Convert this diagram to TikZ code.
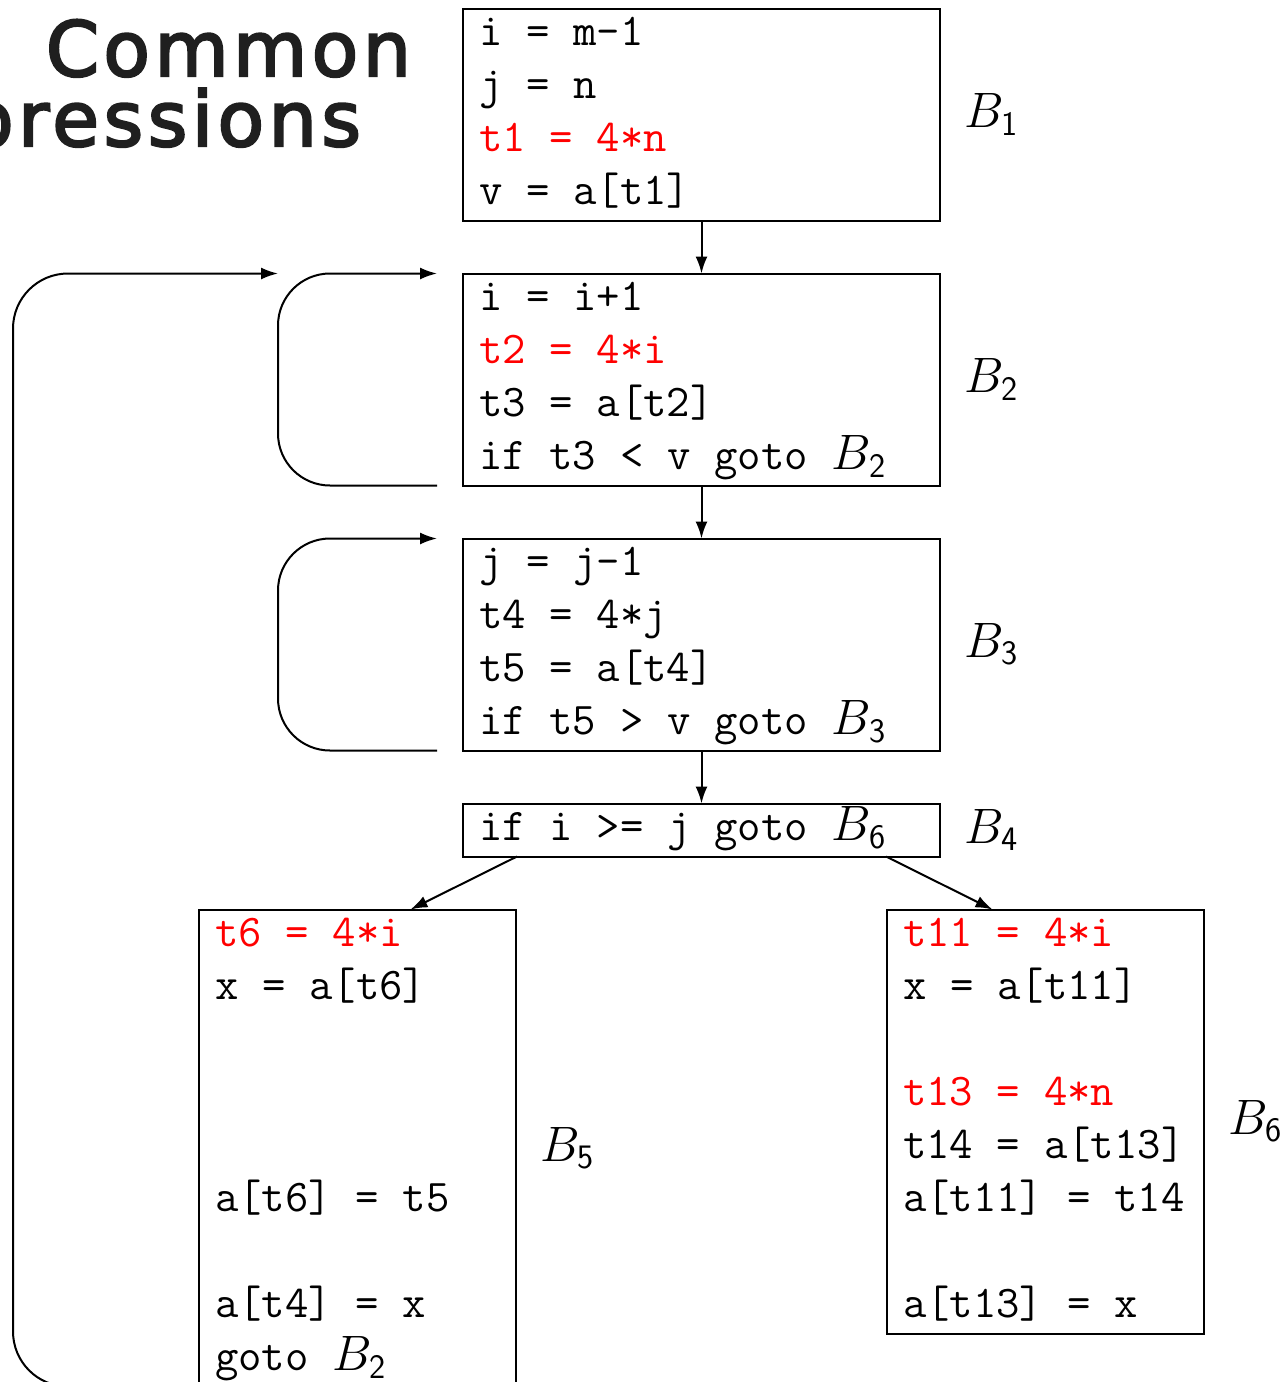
\documentclass[tikz,border=0pt]{standalone}
\usepackage{fontspec}
\newfontfamily\titlefont[FakeBold=3,LetterSpace=6]{DejaVu Sans}
\usetikzlibrary{arrows.meta,positioning}

\DeclareRobustCommand{\codefont}{\fontsize{22.7pt}{26.5pt}\selectfont\ttfamily}
\newcommand{\bname}[1]{{\fontsize{24.5pt}{26.5pt}\selectfont$B_{\mathsf{#1}}$}}

\begin{document}
\begin{tikzpicture}[
  x=0.5pt, y=-0.5pt,
  node distance=26.5pt,
  label distance=12pt,
  every node/.style={outer sep=0pt},
  every label/.style={inner sep=0pt, font=\fontsize{24.5pt}{26.5pt}\selectfont},
  blk/.style={draw, line width=1pt, text width=222.5pt, inner xsep=8pt, inner ysep=0pt, align=left,
    font=\codefont, execute at begin node={\spaceskip=0.525em\relax\strut}, execute at end node=\strut},
  narrow/.style={blk, text width=142.5pt},
  ttl/.style={inner sep=0pt, text=black!88, font=\fontsize{38pt}{44pt}\selectfont\titlefont},
  arr/.style={-{Latex[length=8.5pt,width=6pt]}, line width=1pt}
]
\useasboundingbox (0,0) rectangle (1287,1382);
\clip (0,0) rectangle (1287,1382);

% slide title (cut off)
\node[ttl, anchor=base east] (ttl1) at (411,76) {Common};
\node[ttl, anchor=base east] (ttl2) at (361,146) {pressions};

% basic blocks
\node[blk, label={right:$B_{\mathsf{1}}$}] (b1) at (701.5,114.5)
  {i = m-1\\ j = n\\ \textcolor{red}{t1 = 4*n}\\ v = a[t1]};
\node[blk, below=of b1, label={right:$B_{\mathsf{2}}$}] (b2)
  {i = i+1\\ \textcolor{red}{t2 = 4*i}\\ t3 = a[t2]\\ if t3 < v goto \bname{2}};
\node[blk, below=of b2, label={right:$B_{\mathsf{3}}$}] (b3)
  {j = j-1\\ t4 = 4*j\\ t5 = a[t4]\\ if t5 > v goto \bname{3}};
\node[blk, below=of b3, label={right:$B_{\mathsf{4}}$}] (b4)
  {if i >= j goto \bname{6}};
\node[narrow, below left=26.5pt and -26.5pt of b4.south west, label={right:$B_{\mathsf{5}}$}] (b5)
  {\textcolor{red}{t6 = 4*i}\\ x = a[t6]\\ \mbox{}\\ \mbox{}\\ \mbox{}\\ a[t6] = t5\\ \mbox{}\\ a[t4] = x\\ goto \bname{2}};
\node[narrow, below right=26.5pt and -26.5pt of b4.south east, label={right:$B_{\mathsf{6}}$}] (b6)
  {\textcolor{red}{t11 = 4*i}\\ x = a[t11]\\ \mbox{}\\ \textcolor{red}{t13 = 4*n}\\ t14 = a[t13]\\ a[t11] = t14\\ \mbox{}\\ a[t13] = x};

% flow edges
\draw[arr] (b1) -- (b2);
\draw[arr] (b2) -- (b3);
\draw[arr] (b3) -- (b4);
\draw[arr] ([xshift=27pt]b4.south west) -- ([xshift=26.5pt]b5.north);
\draw[arr] ([xshift=-27pt]b4.south east) -- ([xshift=-26.5pt]b6.north);

% back edges
\draw[arr, rounded corners=26pt] ([xshift=-13pt]b2.south west) -- ++(-159,0) |- ([xshift=-13pt]b2.north west);
\draw[arr, rounded corners=26pt] ([xshift=-13pt]b3.south west) -- ++(-159,0) |- ([xshift=-13pt]b3.north west);
\draw[arr, rounded corners=27.5pt] ([xshift=-13pt]b5.south west) -- ++(-160,0) |- ([xshift=-92.5pt]b2.north west);
\end{tikzpicture}
\end{document}
